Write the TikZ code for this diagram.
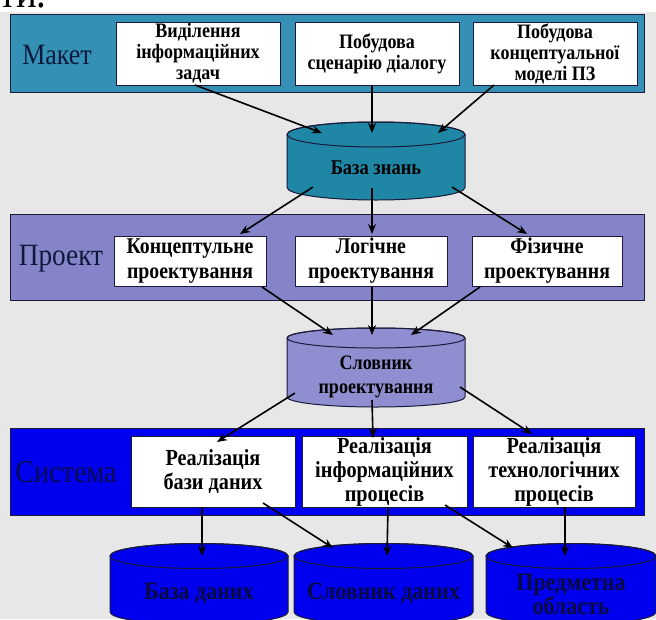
\documentclass[tikz,border=0pt]{standalone}
\usepackage{fontspec}
\setmainfont{Liberation Serif}[FakeStretch=0.88]
\usetikzlibrary{arrows.meta}
\definecolor{bggrey}{HTML}{E7E7E7}
\definecolor{makc}{HTML}{3490B5}
\definecolor{bzc}{HTML}{1F86A5}
\definecolor{proc}{HTML}{8684C8}
\definecolor{spc}{HTML}{8E8ED0}
\definecolor{sysc}{HTML}{0000EE}
\definecolor{edge}{HTML}{1A1A3A}
\definecolor{navy}{HTML}{0B1A3C}
\definecolor{sysnavy}{HTML}{0A0A50}
\definecolor{cylnavy}{HTML}{0A0A40}
\newcommand\cylshape[6]{%
  \filldraw[fill=#6, draw=edge, line width=1pt] ({#1-#4},#2) -- ({#1-#4},#3)
    arc[start angle=180, end angle=360, x radius=#4pt, y radius=#5pt]
    -- ({#1+#4},#2)
    arc[start angle=0, end angle=180, x radius=#4pt, y radius=#5pt] -- cycle;
  \draw[draw=edge, line width=1pt] (#1,#2) ellipse[x radius=#4pt, y radius=#5pt];
}
\begin{document}
\begin{tikzpicture}[x=1pt,y=-1pt,
  band/.style={draw=edge, line width=1.2pt, anchor=north west, inner sep=0pt},
  lbl/.style={text=navy, inner sep=0pt},
  box/.style={draw=edge, line width=1pt, fill=white, align=center, inner sep=0pt, text=black},
  mbox/.style={box, font=\bfseries\fontsize{20.5}{21}\selectfont},
  pbox/.style={box, font=\bfseries\fontsize{22.5}{25}\selectfont},
  sbox/.style={box, font=\bfseries\fontsize{23}{24}\selectfont},
  ctext/.style={align=center, inner sep=0pt, font=\bfseries\fontsize{21}{24}\selectfont},
  btext/.style={ctext, text=cylnavy, font=\bfseries\fontsize{25}{24}\selectfont},
  arr/.style={draw=black, line width=1.6pt, -{Stealth[length=10pt,width=8pt]}}
]
\useasboundingbox (0,0) rectangle (656,619);
\clip (0,0) rectangle (656,619);
\fill[white] (0,0) rectangle (656,12);
\fill[bggrey] (0,12) rectangle (656,619);
\node[anchor=base west, inner sep=0pt, font=\fontsize{44}{44}\selectfont] (topfrag) at (-1,7) {ти.};

% ---- bands
\node[band, fill=makc, minimum width=634pt, minimum height=78pt] (makband) at (10,14) {};
\node[band, fill=proc, minimum width=634pt, minimum height=86pt] (proband) at (10,214) {};
\node[band, fill=sysc, minimum width=634pt, minimum height=87pt] (sysband) at (10,428) {};
\node[lbl, font=\fontsize{29.5}{30}\selectfont] (maklbl) at (57,55) {Макет};
\node[lbl, font=\fontsize{31}{30}\selectfont] (prolbl) at (61,259) {Проект};
\node[lbl, text=sysnavy, font=\fontsize{32}{30}\selectfont] (syslbl) at (66,472) {Система};

% ---- boxes
\node[mbox, minimum width=164pt, minimum height=63pt] (m1) at (198,53.5) {Виділення\\інформаційних\\задач};
\node[mbox, minimum width=164pt, minimum height=63pt] (m2) at (377,53.5) {Побудова\\сценарію діалогу};
\node[mbox, minimum width=164pt, minimum height=63pt] (m3) at (555,53.5) {Побудова\\концептуальної\\моделі ПЗ};

\node[pbox, minimum width=152pt, minimum height=50pt] (p1) at (190,261) {Концептульне\\проектування};
\node[pbox, minimum width=152pt, minimum height=50pt] (p2) at (371,261) {Логічне\\проектування};
\node[pbox, minimum width=150pt, minimum height=50pt] (p3) at (547,261) {Фізичне\\проектування};

\node[sbox, minimum width=164pt, minimum height=71pt] (s1) at (213,471.5) {Реалізація\\бази даних};
\node[sbox, minimum width=165pt, minimum height=71pt] (s2) at (384.5,471.5) {Реалізація\\інформаційних\\процесів};
\node[sbox, minimum width=162pt, minimum height=71pt] (s3) at (554,471.5) {Реалізація\\технологічних\\процесів};

% ---- cylinders
\cylshape{376}{134.5}{187.5}{89}{12.5}{bzc}
\node[ctext] (bz) at (376,168) {База знань};
\cylshape{376}{338}{397}{89}{10}{spc}
\node[ctext, font=\bfseries\fontsize{20.5}{24}\selectfont] (sp) at (376,377) {Словник\\проектування};
\cylshape{199}{556}{612}{89}{12.5}{sysc}
\cylshape{383.5}{556}{612}{89.5}{12.5}{sysc}
\cylshape{571}{556}{612}{85}{12.5}{sysc}
\node[btext] (bd) at (199,593) {База даних};
\node[btext] (sd) at (383.5,593) {Словник даних};
\node[btext] (po) at (571,594) {Предметна\\область};

% ---- connector end points
\coordinate (m1o) at (195,85);  \coordinate (bz1) at (322,133);
\coordinate (m2o) at (372,85);  \coordinate (bz2) at (372,133);
\coordinate (m3o) at (494,85);  \coordinate (bz3) at (438,133);
\coordinate (bzo1) at (313,187); \coordinate (p1i) at (240,234);
\coordinate (bzo2) at (372,188); \coordinate (p2i) at (372,234);
\coordinate (bzo3) at (452,187); \coordinate (p3i) at (527,234);
\coordinate (p1o) at (262,287); \coordinate (sp1) at (333,335);
\coordinate (p2o) at (372,287); \coordinate (sp2) at (372,335);
\coordinate (p3o) at (480,287); \coordinate (sp3) at (411,335);
\coordinate (spo1) at (295,393); \coordinate (s1i) at (217,442);
\coordinate (spo2) at (372,400); \coordinate (s2i) at (373,438);
\coordinate (spo3) at (460,387); \coordinate (s3i) at (532,434);
\coordinate (s1o) at (202,507); \coordinate (bd1) at (202,556);
\coordinate (s1x) at (263,503); \coordinate (sd1) at (333,548);
\coordinate (s2o) at (388,507); \coordinate (sd2) at (387,556);
\coordinate (s2x) at (445,505); \coordinate (po1) at (513,548);
\coordinate (s3o) at (565,507); \coordinate (po2) at (565,556);

\draw[arr] (m1o) -- (bz1);
\draw[arr] (m2o) -- (bz2);
\draw[arr] (m3o) -- (bz3);
\draw[arr] (bzo1) -- (p1i);
\draw[arr] (bzo2) -- (p2i);
\draw[arr] (bzo3) -- (p3i);
\draw[arr] (p1o) -- (sp1);
\draw[arr] (p2o) -- (sp2);
\draw[arr] (p3o) -- (sp3);
\draw[arr] (spo1) -- (s1i);
\draw[arr] (spo2) -- (s2i);
\draw[arr] (spo3) -- (s3i);
\draw[arr] (s1o) -- (bd1);
\draw[arr] (s1x) -- (sd1);
\draw[arr] (s2o) -- (sd2);
\draw[arr] (s2x) -- (po1);
\draw[arr] (s3o) -- (po2);
\end{tikzpicture}
\end{document}
